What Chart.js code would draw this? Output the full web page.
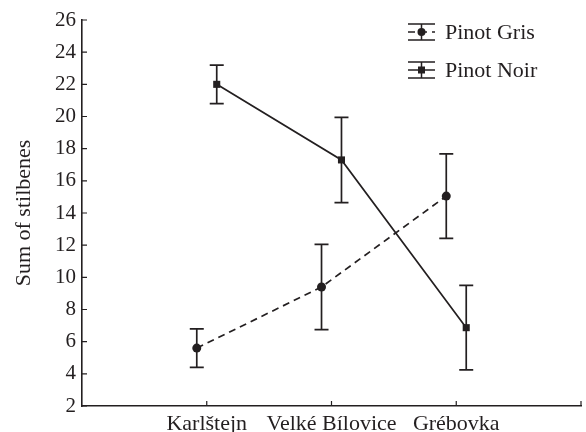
<!DOCTYPE html>
<html>
<head>
<meta charset="utf-8">
<script src="https://cdn.jsdelivr.net/npm/chart.js@4"></script>
<style>
  html, body { margin: 0; padding: 0; background: #fff; }
  #wrap { width: 586px; height: 432px; }
</style>
</head>
<body>
<div id="wrap"><canvas id="chart"></canvas></div>
<script>
// data
const categories = ['Karlštejn', 'Velké Bílovice', 'Grébovka'];
const pinotGris = [5.6, 9.4, 15.05];
const pinotGrisErr = [1.2, 2.65, 2.63];
const pinotNoir = [22.0, 17.3, 6.87];
const pinotNoirErr = [1.2, 2.65, 2.63];
const yTicks = [2, 4, 6, 8, 10, 12, 14, 16, 18, 20, 22, 24, 26];

const ink = '#231f20';
const serif = "'Liberation Serif', 'Times New Roman', serif";

function points(values, shift) {
    return values.map((v, i) => ({ x: i + 1 + shift, y: v }));
}

// error bars drawn through the y scale
const errorBars = {
    id: 'errorBars',
    afterDatasetsDraw(chart) {
        const ctx = chart.ctx;
        const y = chart.scales.y;
        ctx.save();
        ctx.strokeStyle = ink;
        ctx.lineWidth = 1.7;
        ctx.setLineDash([]);
        chart.data.datasets.forEach((ds, di) => {
            const meta = chart.getDatasetMeta(di);
            meta.data.forEach((pt, i) => {
                const v = ds.data[i].y;
                const e = ds.errors[i];
                const top = y.getPixelForValue(v + e);
                const bot = y.getPixelForValue(v - e);
                ctx.beginPath();
                ctx.moveTo(pt.x, top);
                ctx.lineTo(pt.x, bot);
                ctx.moveTo(pt.x - 7, top);
                ctx.lineTo(pt.x + 7, top);
                ctx.moveTo(pt.x - 7, bot);
                ctx.lineTo(pt.x + 7, bot);
                ctx.stroke();
            });
        });
        ctx.restore();
    }
};

// tick marks pointing into the plot
const innerTicks = {
    id: 'innerTicks',
    afterDraw(chart) {
        const ctx = chart.ctx;
        const { x, y } = chart.scales;
        const area = chart.chartArea;
        ctx.save();
        ctx.strokeStyle = ink;
        ctx.lineWidth = 1.2;
        ctx.beginPath();
        y.ticks.forEach(t => {
            const py = y.getPixelForValue(t.value);
            ctx.moveTo(area.left, py);
            ctx.lineTo(area.left + 5, py);
        });
        x.ticks.forEach(t => {
            if (t.value === 0) return;
            const px = x.getPixelForValue(t.value);
            ctx.moveTo(px, area.bottom);
            ctx.lineTo(px, area.bottom - 5);
        });
        ctx.stroke();
        ctx.restore();
    }
};

// legend in the top right corner with error bar symbols
const cornerLegend = {
    id: 'cornerLegend',
    afterDraw(chart) {
        const ctx = chart.ctx;
        const x0 = 408, x1 = 435, cx = (x0 + x1) / 2;
        ctx.save();
        ctx.strokeStyle = ink;
        ctx.fillStyle = ink;
        ctx.font = '22px ' + serif;
        ctx.textBaseline = 'middle';
        chart.data.datasets.forEach((ds, i) => {
            const cy = 32 + i * 38;
            ctx.lineWidth = 1.5;
            ctx.setLineDash([]);
            ctx.beginPath();
            ctx.moveTo(x0, cy - 8); ctx.lineTo(x1, cy - 8);
            ctx.moveTo(x0, cy + 8); ctx.lineTo(x1, cy + 8);
            ctx.moveTo(cx, cy - 8); ctx.lineTo(cx, cy + 8);
            ctx.stroke();
            ctx.setLineDash(ds.borderDash || []);
            ctx.beginPath();
            ctx.moveTo(x0, cy); ctx.lineTo(x1, cy);
            ctx.stroke();
            ctx.setLineDash([]);
            if (ds.pointStyle === 'rect') {
                ctx.fillRect(cx - 3.5, cy - 3.5, 7, 7);
            } else {
                ctx.beginPath();
                ctx.arc(cx, cy, 4, 0, Math.PI * 2);
                ctx.fill();
            }
            ctx.fillText(ds.label, 445, cy + 1);
        });
        ctx.restore();
    }
};

new Chart(document.getElementById('chart'), {
    type: 'line',
    data: {
        datasets: [
            {
                label: 'Pinot Gris',
                data: points(pinotGris, -0.08),
                errors: pinotGrisErr,
                borderColor: ink,
                backgroundColor: ink,
                borderWidth: 1.7,
                borderDash: [7, 5],
                pointStyle: 'circle',
                pointRadius: 4.5,
                pointBorderWidth: 0
            },
            {
                label: 'Pinot Noir',
                data: points(pinotNoir, 0.08),
                errors: pinotNoirErr,
                borderColor: ink,
                backgroundColor: ink,
                borderWidth: 1.7,
                pointStyle: 'rect',
                pointRadius: 5,
                pointBorderWidth: 0
            }
        ]
    },
    options: {
        responsive: true,
        maintainAspectRatio: false,
        animation: false,
        layout: { padding: { top: 20, right: 3 } },
        plugins: {
            legend: { display: false },
            tooltip: { enabled: false }
        },
        scales: {
            x: {
                type: 'linear',
                min: 0,
                max: 4,
                afterFit(scale) { scale.height = 26; },
                afterBuildTicks(scale) {
                    scale.ticks = [0, 1, 2, 3, 4].map(v => ({ value: v }));
                },
                grid: { display: false, drawTicks: false },
                border: { display: true, color: ink, width: 1.6 },
                ticks: {
                    padding: 5,
                    color: ink,
                    font: { family: serif, size: 22 },
                    maxRotation: 0,
                    autoSkip: false,
                    callback: v => categories[v - 1] || ''
                }
            },
            y: {
                min: 2,
                max: 26,
                afterFit(scale) { scale.width = 82; },
                afterBuildTicks(scale) {
                    scale.ticks = yTicks.map(v => ({ value: v }));
                },
                grid: { display: false, drawTicks: false },
                border: { display: true, color: ink, width: 1.6 },
                ticks: {
                    padding: 6,
                    color: ink,
                    font: { family: serif, size: 21 }
                },
                title: {
                    display: true,
                    text: 'Sum of stilbenes',
                    color: ink,
                    font: { family: serif, size: 22 },
                    padding: { top: 11 }
                }
            }
        }
    },
    plugins: [errorBars, innerTicks, cornerLegend]
});
</script>
</body>
</html>
